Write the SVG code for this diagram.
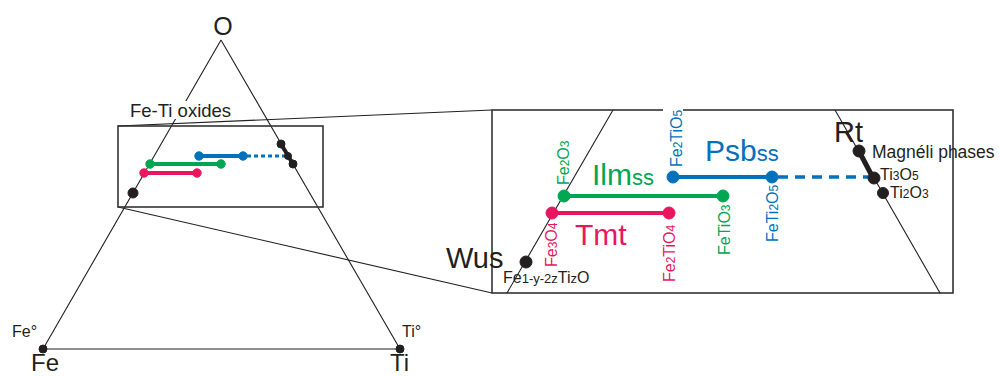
<svg xmlns="http://www.w3.org/2000/svg" width="1000" height="376" viewBox="0 0 1000 376">
<style>
text{font-family:"Liberation Sans",Arial,sans-serif;fill:#231f20}
.thin{stroke:#231f20;stroke-width:1.1;fill:none}
.box{stroke:#333;stroke-width:1.6;fill:none}
.r{stroke:#e8175d;fill:#e8175d}
.g{stroke:#00a651;fill:#00a651}
.b{stroke:#0072bc;fill:#0072bc}
.k{stroke:#231f20;fill:#231f20}
.tr{fill:#e8175d}.tg{fill:#00a651}.tb{fill:#0072bc}
</style>
<rect width="1000" height="376" fill="#fff"/>
<g id="connectors">
<line class="thin" x1="221" y1="40" x2="43" y2="349"/>
<line class="thin" x1="221" y1="40" x2="400" y2="349"/>
<line class="thin" x1="43" y1="349" x2="400" y2="349"/>
<line class="thin" x1="118" y1="126" x2="492" y2="110"/>
<line class="thin" x1="118" y1="207" x2="492" y2="293"/>
<rect class="box" x="118" y="126" width="205" height="81"/>
<rect class="box" x="492" y="110" width="461" height="183"/>
<line class="thin" x1="613" y1="110" x2="507" y2="293"/>
<line class="thin" x1="835" y1="110" x2="940" y2="293"/>
</g>
<g id="label-O"><text x="223" y="35" font-size="25" text-anchor="middle">O</text></g>
<g id="vertex-Fe"><circle class="k" cx="43" cy="349" r="4"/><text x="31" y="371" font-size="24">Fe</text><text x="12" y="337" font-size="16">Fe°</text></g>
<g id="vertex-Ti"><circle class="k" cx="400" cy="349" r="4"/><text x="390" y="371" font-size="24">Ti</text><text x="402" y="337" font-size="16">Ti°</text></g>
<g id="label-oxides"><rect x="128" y="101" width="106" height="18" fill="#fff"/><text x="130" y="117" font-size="18.5">Fe-Ti oxides</text></g>
<g id="small-phases">
<line class="r" x1="144" y1="173" x2="197" y2="173" stroke-width="4"/><circle class="r" cx="144" cy="173" r="4.2"/><circle class="r" cx="197" cy="173" r="4.2"/>
<line class="g" x1="150" y1="164" x2="221" y2="164" stroke-width="4"/><circle class="g" cx="150" cy="164" r="4.2"/><circle class="g" cx="221" cy="164" r="4.2"/>
<line class="b" x1="199" y1="156" x2="243" y2="156" stroke-width="4"/><line class="b" x1="247" y1="156" x2="287" y2="156" stroke-width="3" stroke-dasharray="4 3"/><circle class="b" cx="199" cy="156" r="4.2"/><circle class="b" cx="243" cy="156" r="4.2"/>
<circle class="k" cx="133" cy="193" r="5"/>
<line class="k" x1="281" y1="144" x2="293" y2="164" stroke-width="4"/><circle class="k" cx="281" cy="144" r="4"/><circle class="k" cx="288" cy="156" r="3.5"/><circle class="k" cx="293" cy="164" r="4"/>
</g>
<g id="Wus"><circle class="k" cx="526" cy="262" r="6"/><text x="446" y="268" font-size="29">Wus</text><text x="503" y="283" font-size="16">Fe<tspan font-size="13">1-y-2z</tspan>Ti<tspan font-size="13">z</tspan>O</text></g>
<g id="Tmt">
<line class="r" x1="552" y1="213" x2="669" y2="213" stroke-width="4"/><circle class="r" cx="552" cy="213" r="6"/><circle class="r" cx="669" cy="213" r="6"/>
<text class="tr" x="575" y="245" font-size="30">Tmt</text>
<text class="tr" transform="translate(557,267) rotate(-90)" font-size="16">Fe<tspan font-size="12">3</tspan>O<tspan font-size="12">4</tspan></text>
<text class="tr" transform="translate(675,282) rotate(-90)" font-size="16">Fe<tspan font-size="12">2</tspan>TiO<tspan font-size="12">4</tspan></text>
</g>
<g id="Ilm">
<line class="g" x1="564" y1="196" x2="723" y2="196" stroke-width="4"/><circle class="g" cx="564" cy="196" r="6"/><circle class="g" cx="723" cy="196" r="6"/>
<text class="tg" x="592" y="185" font-size="30">Ilm<tspan font-size="22">ss</tspan></text>
<text class="tg" transform="translate(569,185) rotate(-90)" font-size="16">Fe<tspan font-size="12">2</tspan>O<tspan font-size="12">3</tspan></text>
<text class="tg" transform="translate(730,255) rotate(-90)" font-size="16">FeTiO<tspan font-size="12">3</tspan></text>
</g>
<g id="Psb">
<line class="b" x1="673" y1="177" x2="772" y2="177" stroke-width="4"/><line class="b" x1="778" y1="177" x2="868" y2="177" stroke-width="3.5" stroke-dasharray="10 7"/><circle class="b" cx="673" cy="177" r="6"/><circle class="b" cx="772" cy="177" r="6"/>
<text class="tb" x="705" y="161" font-size="30">Psb<tspan font-size="22">ss</tspan></text>
<rect x="663" y="105" width="20" height="9" fill="#fff"/>
<text class="tb" transform="translate(682,167) rotate(-90)" font-size="16">Fe<tspan font-size="12">2</tspan>TiO<tspan font-size="12">5</tspan></text>
<text class="tb" transform="translate(778,242) rotate(-90)" font-size="16">FeTi<tspan font-size="12">2</tspan>O<tspan font-size="12">5</tspan></text>
</g>
<g id="Rt">
<line class="k" x1="861" y1="155" x2="871" y2="174" stroke-width="5"/>
<circle class="k" cx="859" cy="151" r="6"/><circle class="k" cx="874" cy="178" r="6"/><circle class="k" cx="883" cy="193" r="5.5"/>
<text x="834" y="142" font-size="29">Rt</text>
<text x="872" y="158" font-size="17.5">Magnéli phases</text>
<text x="880" y="180" font-size="16">Ti<tspan font-size="12">3</tspan>O<tspan font-size="12">5</tspan></text>
<text x="890" y="198" font-size="16">Ti<tspan font-size="12">2</tspan>O<tspan font-size="12">3</tspan></text>
</g>
</svg>
